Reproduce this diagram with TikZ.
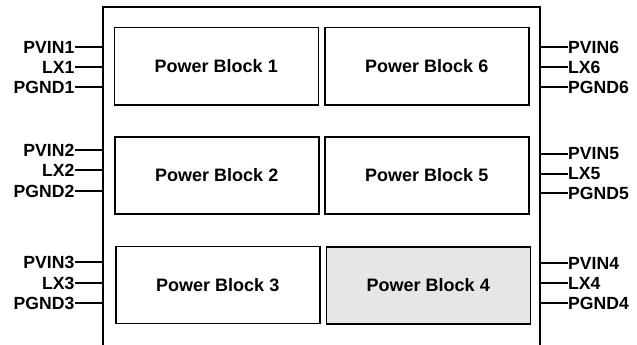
\documentclass[tikz,border=0pt]{standalone}
\usepackage{fontspec}
\setmainfont{Liberation Sans}
\begin{document}
\begin{tikzpicture}[x=1pt,y=-1pt,
  blk/.style={draw,line width=1.5pt,minimum width=204pt,minimum height=77pt,inner sep=0pt,anchor=north west,font=\fontsize{18}{20}\selectfont\bfseries},
  pinl/.style={anchor=east,inner sep=0pt,font=\fontsize{17.6}{19}\selectfont\bfseries},
  pinr/.style={anchor=west,inner sep=0pt,font=\fontsize{17.6}{19}\selectfont\bfseries},
  wire/.style={line width=1.4pt}]
\useasboundingbox (0,0) rectangle (637,345);
\coordinate (otl) at (103,7);
\coordinate (otr) at (540,7);
\coordinate (obl) at (103,346);
\coordinate (obr) at (540,346);
\draw[wire] (obl) -- (otl) -- (otr) -- (obr);
\node[blk] (b1) at (113.5,27) {Power Block 1};
\node[blk] (b6) at (324,27) {Power Block 6};
\node[blk] (b2) at (114,136) {Power Block 2};
\node[blk] (b5) at (324,136) {Power Block 5};
\node[blk] (b3) at (115,245.5) {Power Block 3};
\node[blk,fill={rgb,255:red,230;green,230;blue,230}] (b4) at (325.5,246) {Power Block 4};
% left pins
\foreach \n/\t/\y in {a/PVIN1/47,b/LX1/67,c/PGND1/87,d/PVIN2/150,e/LX2/170,f/PGND2/191,g/PVIN3/262,h/LX3/283,i/PGND3/303}{
  \node[pinl] (l\n) at (74.5,\y) {\t};
  \coordinate (lc\n) at (103,\y);
  \draw[wire] (l\n.east) -- (lc\n);
}
% right pins
\foreach \n/\t/\y in {a/PVIN6/47,b/LX6/67,c/PGND6/87,d/PVIN5/154,e/LX5/174,f/PGND5/193,g/PVIN4/263,h/LX4/283,i/PGND4/303}{
  \node[pinr] (r\n) at (568,\y) {\t};
  \coordinate (rc\n) at (540,\y);
  \draw[wire] (rc\n) -- (r\n.west);
}
\end{tikzpicture}
\end{document}
